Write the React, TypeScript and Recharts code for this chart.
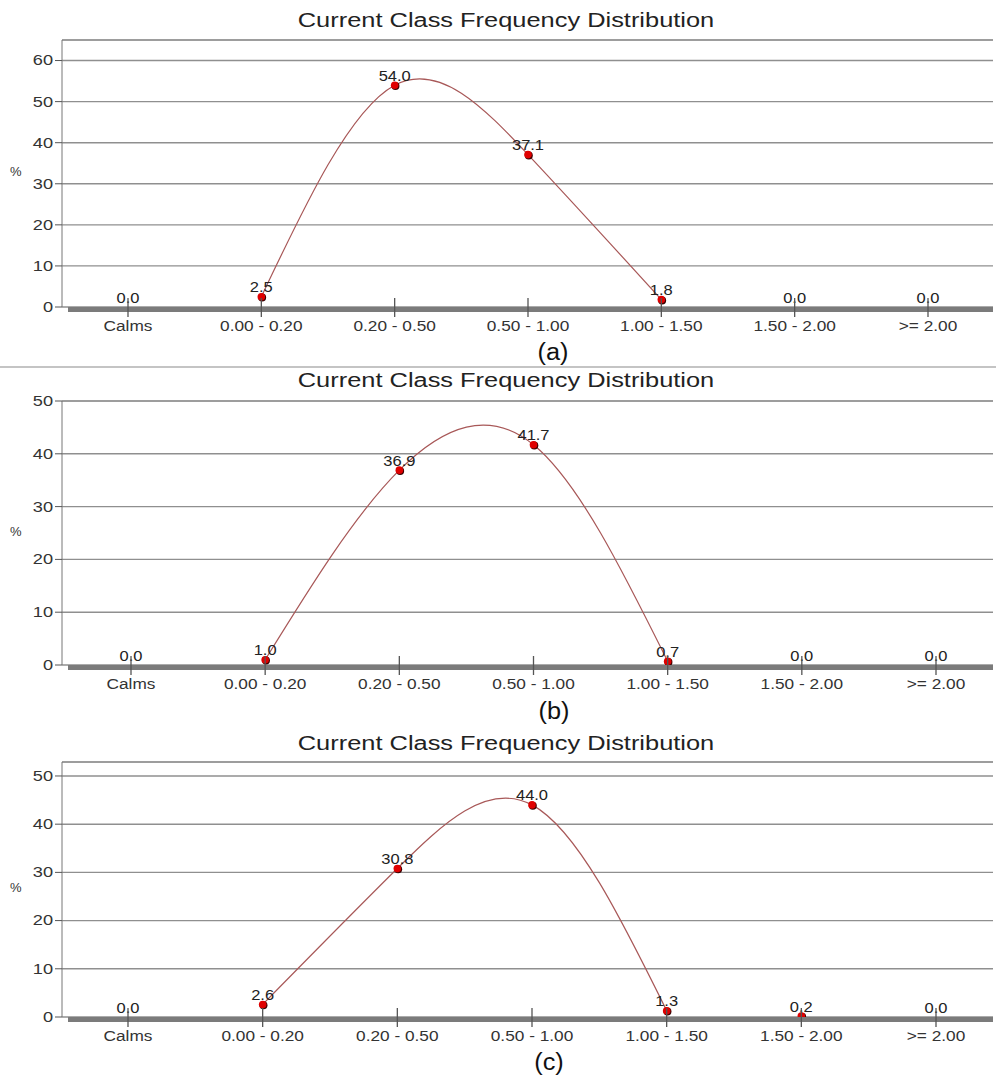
import React from 'react';
import { LineChart, Line, XAxis, YAxis, CartesianGrid, ReferenceLine } from 'recharts';

const CATEGORIES = ['Calms', '0.00 - 0.20', '0.20 - 0.50', '0.50 - 1.00', '1.00 - 1.50', '1.50 - 2.00', '>= 2.00'];
// classes joined by the fitted curve
const CURVE_CATEGORIES = ['0.00 - 0.20', '0.20 - 0.50', '0.50 - 1.00', '1.00 - 1.50'];

const VALUES_A = [0.0, 2.5, 54.0, 37.1, 1.8, 0.0, 0.0];
const VALUES_B = [0.0, 1.0, 36.9, 41.7, 0.7, 0.0, 0.0];
const VALUES_C = [0.0, 2.6, 30.8, 44.0, 1.3, 0.2, 0.0];

const TICKS_A = [0, 10, 20, 30, 40, 50, 60];
const MINOR_A = [5, 15, 25, 35, 45, 55];
const TICKS_BC = [0, 10, 20, 30, 40, 50];
const MINOR_BC = [5, 15, 25, 35, 45];

const TITLE = 'Current Class Frequency Distribution';
const FONT = '"Liberation Sans", Arial, sans-serif';

const buildRows = (values: number[]) =>
  CATEGORIES.map((cat, i) => ({
    cat,
    value: values[i],
    curve: CURVE_CATEGORIES.includes(cat) ? values[i] : null,
  }));

const XTick = (props: any) => {
  const { x, y, payload } = props;
  return (
    <g>
      <line x1={x} x2={x} y1={y - 9} y2={y + 10} stroke="#555" strokeWidth={1.3} />
      <g transform={`translate(${x},${y + 24}) scale(1.15,1)`}>
        <text textAnchor="middle" fontSize={15} fill="#333" fontFamily={FONT}>
          {payload.value}
        </text>
      </g>
    </g>
  );
};

const YTick = (props: any) => {
  const { x, y, payload } = props;
  return (
    <g transform={`translate(${x},${y}) scale(1.3,1)`}>
      <text textAnchor="end" dy="0.35em" fontSize={14} fill="#333" fontFamily={FONT}>
        {payload.value}
      </text>
    </g>
  );
};

const renderMarker = (props: any) => {
  const { cx, cy, value, index } = props;
  return (
    <g key={`m-${index}`}>
      {value > 0 && (
        <>
          <circle cx={cx + 0.8} cy={cy + 0.8} r={4} fill="#3a0000" />
          <circle cx={cx} cy={cy} r={3.8} fill="#e00000" />
        </>
      )}
      <g transform={`translate(${cx},${cy - 4.5}) scale(1.1,1)`}>
        <text textAnchor="middle" fontSize={15} fill="#222" fontFamily={FONT}>
          {Number(value).toFixed(1)}
        </text>
      </g>
    </g>
  );
};

interface PanelProps {
  values: number[];
  top: number;
  plotHeight: number;
  yMax: number;
  ticks: number[];
  minor: number[];
  padLeft: number;
  padRight: number;
}

const Panel: React.FC<PanelProps> = ({ values, top, plotHeight, yMax, ticks, minor, padLeft, padRight }) => {
  const data = buildRows(values);
  return (
    <div style={{ position: 'absolute', left: 0, top }}>
      <LineChart width={996} height={plotHeight + 50} data={data} margin={{ top: 10, right: 3, bottom: 0, left: 0 }}>
        <CartesianGrid vertical={false} stroke="#8f8f8f" strokeWidth={1.4} />
        <XAxis
          dataKey="cat"
          padding={{ left: padLeft, right: padRight }}
          height={40}
          tickSize={0}
          tickMargin={0}
          tick={XTick}
          interval={0}
          axisLine={{ stroke: '#7b7b7b', strokeWidth: 5, strokeDasharray: '0 6 3000', transform: 'translate(0,2.5)' }}
        />
        <YAxis
          yAxisId="minor"
          domain={[0, yMax]}
          ticks={minor}
          mirror
          width={0}
          tick={false}
          tickSize={8}
          tickLine={{ stroke: '#666' }}
          axisLine={false}
        />
        <YAxis
          domain={[0, yMax]}
          ticks={ticks}
          width={62}
          tickSize={7}
          tickMargin={2}
          tick={YTick}
          tickLine={{ stroke: '#555' }}
          axisLine={{ stroke: '#777' }}
          allowDataOverflow
        />
        <YAxis
          yAxisId="right"
          orientation="right"
          domain={[0, yMax]}
          width={0}
          tick={false}
          tickLine={false}
          axisLine={{ stroke: '#6a6a6a', strokeWidth: 3, transform: 'translate(1.5,0)' }}
        />
        <ReferenceLine y={yMax} stroke="#999" strokeWidth={1.4} />
        <Line
          type="natural"
          dataKey="curve"
          stroke="#a85858"
          strokeWidth={1.2}
          dot={false}
          activeDot={false}
          isAnimationActive={false}
        />
        <Line
          type="linear"
          dataKey="value"
          stroke="none"
          dot={renderMarker}
          activeDot={false}
          isAnimationActive={false}
        />
      </LineChart>
    </div>
  );
};

const Title = ({ top }: { top: number }) => (
  <div
    style={{
      position: 'absolute',
      left: 506,
      top,
      fontFamily: FONT,
      fontSize: 20,
      lineHeight: '20px',
      color: '#222',
      whiteSpace: 'nowrap',
      transform: 'translateX(-50%) scaleX(1.27)',
    }}
  >
    {TITLE}
  </div>
);

const Caption = ({ top, left, text }: { top: number; left: number; text: string }) => (
  <div
    style={{
      position: 'absolute',
      left,
      top,
      fontFamily: FONT,
      fontSize: 23,
      lineHeight: '24px',
      color: '#111',
      transform: 'translateX(-50%) scaleX(1.1)',
    }}
  >
    {text}
  </div>
);

const Percent = ({ top }: { top: number }) => (
  <div style={{ position: 'absolute', left: 10, top, fontFamily: FONT, fontSize: 13, color: '#333' }}>%</div>
);

export default function App() {
  return (
    <div style={{ position: 'absolute', left: 0, top: 0, width: 996, height: 1076, background: '#fff', overflow: 'hidden' }}>
      <Title top={10} />
      <Panel values={VALUES_A} top={30} plotHeight={267} yMax={65} ticks={TICKS_A} minor={MINOR_A} padLeft={66} padRight={65} />
      <Percent top={164} />
      <Caption top={340} left={553} text="(a)" />
      <div style={{ position: 'absolute', left: 0, top: 366, width: 996, height: 2, background: '#c4c4c4' }} />

      <Title top={370} />
      <Panel values={VALUES_B} top={391} plotHeight={264} yMax={50} ticks={TICKS_BC} minor={MINOR_BC} padLeft={69} padRight={57} />
      <Percent top={524} />
      <Caption top={699} left={554} text="(b)" />

      <Title top={733} />
      <Panel values={VALUES_C} top={752} plotHeight={255} yMax={52.9} ticks={TICKS_BC} minor={MINOR_BC} padLeft={66} padRight={57} />
      <Percent top={880} />
      <Caption top={1050} left={549} text="(c)" />
    </div>
  );
}
